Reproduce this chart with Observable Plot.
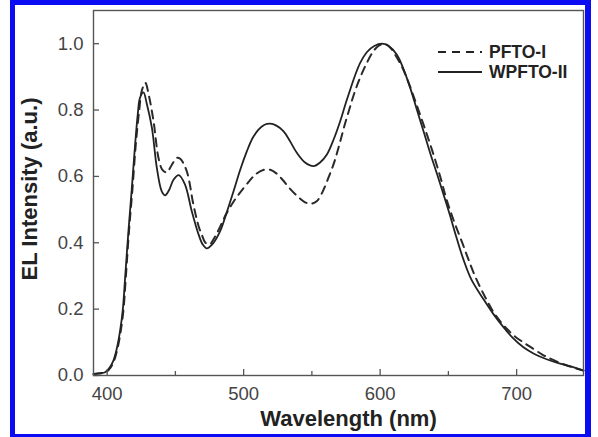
<!DOCTYPE html>
<html><head><meta charset="utf-8">
<script src="https://cdn.jsdelivr.net/npm/d3@7"></script>
<script src="https://cdn.jsdelivr.net/npm/@observablehq/plot@0.6"></script>
<style>
body{margin:0;background:#fff;}
#wrap{position:relative;width:598px;height:437px;overflow:hidden;font-family:"Liberation Sans",Arial,sans-serif;background:#fff;}
#chart{position:absolute;left:0;top:0;}
#border{position:absolute;left:10px;top:0;width:581px;height:437px;box-sizing:border-box;border-style:solid;border-color:#0c0cf4;border-width:5px 6px 3px 5px;pointer-events:none;}
.lg{position:absolute;left:438px;height:20px;display:flex;align-items:center;font-weight:bold;font-size:17.5px;color:#222;}
.lg svg{margin-right:7px;}
</style>
</head><body>
<div id="wrap">
<div id="chart"></div>
<div id="legend"></div>
<div id="border"></div>
</div>
<script>
const seriesNames = ["PFTO-I", "WPFTO-II"];

const wlPFTO = [390,395,399,402.5,405,407.5,410,412,413.5,416,418.5,421,423.5,425.5,428,430.5,434,437.6,440.5,443.7,447,451,453.5,458.3,463.2,467,469.3,472,475,479,483,487,492,496.8,504,509,515,519.5,523.7,528.5,533.5,540.8,545,549.4,553.5,558,562,565.9,568.5,571.4,574,577.5,581,585.4,590,595.2,599,603,607,612,616,619.6,625.5,631.8,638,644,648,651.5,655,660,664.5,670,677,684,693,699,706,712,718.5,723,729.5,735,742,749];
const elPFTO = [0.004,0.006,0.01,0.024,0.044,0.08,0.135,0.2,0.285,0.435,0.56,0.697,0.8,0.86,0.882,0.845,0.766,0.656,0.62,0.612,0.632,0.656,0.653,0.616,0.515,0.45,0.425,0.4,0.395,0.418,0.45,0.485,0.52,0.548,0.585,0.607,0.62,0.62,0.61,0.59,0.565,0.535,0.522,0.518,0.525,0.555,0.595,0.637,0.672,0.715,0.755,0.803,0.85,0.898,0.94,0.978,0.994,1.0,0.99,0.96,0.93,0.896,0.83,0.756,0.68,0.6,0.54,0.495,0.455,0.402,0.352,0.295,0.236,0.185,0.14,0.117,0.097,0.081,0.064,0.054,0.042,0.033,0.023,0.015];

const wlWPFTO = [390,395,398.5,402,404.5,407,409.5,411.5,413,415.6,418,420.5,422.5,424,426.6,429,432.8,436.4,440,442.5,445.5,448.6,452.5,457,462,466.9,470,473,477,482.8,487.5,492.6,497.5,502.4,506.5,510.9,515,519.5,524,529.3,534,539,545,551.2,556,561,566,570.8,574.4,578.1,581.7,585.4,590.4,595.7,601.3,606,612.3,617,622.1,627,631.8,636.7,641.7,646.5,651,656,661,667,676,683,690.5,697,705,713,722,730,739,749];
const elWPFTO = [0.005,0.007,0.01,0.025,0.044,0.08,0.135,0.2,0.285,0.435,0.56,0.697,0.79,0.836,0.853,0.82,0.746,0.626,0.555,0.543,0.56,0.59,0.604,0.576,0.495,0.426,0.395,0.383,0.395,0.435,0.49,0.555,0.62,0.676,0.715,0.741,0.755,0.759,0.753,0.736,0.706,0.671,0.642,0.631,0.642,0.666,0.712,0.767,0.815,0.862,0.905,0.942,0.975,0.993,1.0,0.994,0.967,0.925,0.866,0.8,0.736,0.67,0.607,0.545,0.485,0.415,0.35,0.288,0.228,0.185,0.145,0.114,0.085,0.065,0.049,0.038,0.028,0.015];

const xMajorTicks = [400, 500, 600, 700];
const xMinorTicks = [450, 550, 650];
const yTicks = [0, 0.2, 0.4, 0.6, 0.8, 1.0];
const xTitle = "Wavelength (nm)";
const yTitle = "EL Intensity (a.u.)";

const pfto = wlPFTO.map((w, i) => ({w, v: elPFTO[i]}));
const wpfto = wlWPFTO.map((w, i) => ({w, v: elWPFTO[i]}));

const font = "'Liberation Sans', Arial, sans-serif";
const plot = Plot.plot({
  width: 598, height: 437,
  marginLeft: 93, marginRight: 15, marginTop: 10, marginBottom: 62,
  x: {domain: [390, 749]},
  y: {domain: [0, 1.1]},
  style: {fontFamily: font, background: "transparent", overflow: "visible"},
  marks: [
    Plot.line(pfto, {x: "w", y: "v", curve: "catmull-rom", stroke: "#2a2a2a", strokeWidth: 2, strokeDasharray: "8,6"}),
    Plot.line(wpfto, {x: "w", y: "v", curve: "catmull-rom", stroke: "#222", strokeWidth: 1.8}),
    Plot.frame({stroke: "#555", strokeWidth: 1.4}),
    Plot.axisX({ticks: xMajorTicks, tickSize: -6, tickFormat: () => "", label: null, stroke: "#555", strokeWidth: 1.3}),
    Plot.axisX({ticks: xMinorTicks, tickSize: -4, tickFormat: () => "", label: null, stroke: "#555", strokeWidth: 1.3}),
    Plot.axisX({ticks: xMajorTicks, tickSize: 0, tickPadding: 11, label: null, fontSize: 18.5, fill: "#444", tickFormat: d => String(d)}),
    Plot.axisY({ticks: yTicks, tickSize: -6, tickFormat: () => "", label: null, stroke: "#555", strokeWidth: 1.3}),
    Plot.axisY({ticks: yTicks, tickSize: 0, tickPadding: 10, label: null, fontSize: 18.5, fill: "#444", tickFormat: d3.format(".1f")}),
    Plot.text([xTitle], {frameAnchor: "bottom", dx: 10, dy: 50, fontSize: 22, fontWeight: "bold", fill: "#222"}),
    Plot.text([yTitle], {frameAnchor: "left", textAnchor: "middle", lineAnchor: "middle", rotate: -90, dx: -64, dy: -4, fontSize: 22, fontWeight: "bold", fill: "#222"})
  ]
});
document.getElementById("chart").appendChild(plot);

const legend = document.getElementById("legend");
const dashes = ["8,6", null];
seriesNames.forEach((name, i) => {
  const row = document.createElement("div");
  row.className = "lg";
  row.style.top = (42 + i * 20) + "px";
  const dash = dashes[i] ? `stroke-dasharray="${dashes[i]}"` : "";
  row.innerHTML = `<svg width="44" height="6"><line x1="0" y1="3" x2="44" y2="3" stroke="#222" stroke-width="2" ${dash}/></svg><span>${name}</span>`;
  legend.appendChild(row);
});
</script>
</body></html>
